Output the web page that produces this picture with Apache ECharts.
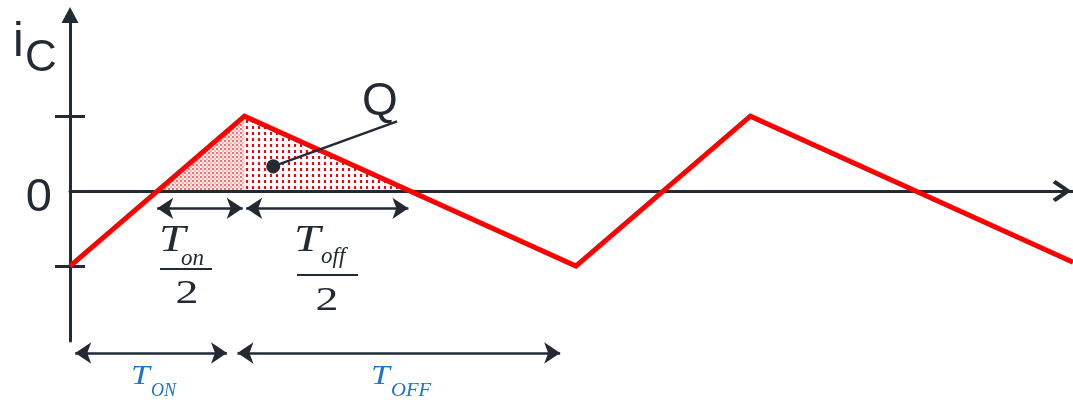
<!DOCTYPE html>
<html>
<head>
<meta charset="utf-8">
<script src="https://cdn.jsdelivr.net/npm/echarts@6/dist/echarts.min.js"></script>
<style>
  html, body { margin: 0; background: #fff; }
  #chart { width: 1073px; height: 400px; }
</style>
</head>
<body>
<div id="chart"></div>
<script>
// time in units of T_on, current in units of the ripple peak
const waveT = [0, 1, 2.9, 3.9, 5.75]
const waveI = [-1, 1, -1, 1, -0.95]
const chargeOnT = [0.5, 1]
const chargeOnI = [0, 1]
const chargeOffT = [1, 1.95]
const chargeOffI = [1, 0]
const halfSpans = [[0.5, 0.99], [1.01, 1.94]]
const halfLevel = -0.23
const periodSpans = [[0.03, 0.9], [0.96, 2.81]]
const periodLevel = -2.16
const qDot = [1.165, 0.33]
const qEnd = [1.875, 0.93]
const yTicks = [-1, 1]
const yLabels = [0]

const dark = '#222a33'
const blue = '#2273c3'
const sans = '"Liberation Sans", Arial, sans-serif'
const serif = '"Liberation Serif", "Times New Roman", serif'

const zip = (xs, ys) => xs.map((x, i) => [x, ys[i]])

// 点阵填充
const makePattern = (w, h, bg, dots) => {
  const c = document.createElement('canvas')
  c.width = w
  c.height = h
  const ctx = c.getContext('2d')
  if (bg) {
    ctx.fillStyle = bg
    ctx.fillRect(0, 0, w, h)
  }
  dots.forEach(d => {
    ctx.fillStyle = d[4]
    ctx.fillRect(d[0], d[1], d[2], d[3])
  })
  return c
}
const finePattern = makePattern(4, 4, '#fff0f0', [[0, 0, 2, 2, '#ff6b6b'], [2, 2, 2, 2, '#ffb0b0']])
const coarsePattern = makePattern(6, 6, '#ffffff', [[0, 0, 2, 3, '#ff0000']])

const spanLines = (spans, level) => spans.map(s => [{ coord: [s[0], level] }, { coord: [s[1], level] }])

const chart = echarts.init(document.getElementById('chart'))

const serifText = (x, y, text, size, opts = {}) => ({
  type: 'text',
  x, y,
  scaleX: opts.scaleX || 1,
  style: {
    text,
    fontFamily: serif,
    fontStyle: opts.italic ? 'italic' : 'normal',
    fontSize: size,
    fill: opts.color || dark,
    align: opts.align || 'left',
    verticalAlign: 'middle'
  }
})

const arrowLines = {
  silent: true,
  symbol: ['arrow', 'arrow'],
  symbolSize: 16,
  label: { show: false },
  lineStyle: { color: dark, width: 2.5, type: 'solid' }
}

const option = {
  animation: false,
  grid: [
    { left: 70, right: 0, top: 15, bottom: 59, outerBoundsMode: 'none' },
    { left: 70, right: 0, top: 341, bottom: 36.5, outerBoundsMode: 'none' }
  ],
  xAxis: [
    {
      type: 'value',
      min: 0,
      max: 5.75,
      axisLine: {
        lineStyle: { color: dark, width: 3 },
        symbol: ['none', 'path://M0,16 L11,0 L22,16 L19,19 L11,7 L3,19 Z'],
        symbolSize: [22, 19],
        symbolOffset: [0, -11]
      },
      axisTick: { show: false },
      axisLabel: { show: false },
      splitLine: { show: false }
    },
    { type: 'value', gridIndex: 1, min: 0, max: 5.75, show: false }
  ],
  yAxis: [
    {
      type: 'value',
      min: -2,
      max: 2.35,
      axisLine: {
        show: true,
        lineStyle: { color: dark, width: 3 },
        symbol: ['none', 'path://M0,16 L8.5,0 L17,16 Z'],
        symbolSize: [17, 16]
      },
      axisTick: { show: true, inside: true, length: 15, customValues: yTicks, lineStyle: { color: dark, width: 3 } },
      axisLabel: {
        customValues: yLabels,
        margin: 18,
        verticalAlign: 'top',
        lineHeight: 13,
        fontFamily: sans,
        fontSize: 47,
        color: dark
      },
      splitLine: { show: false }
    },
    {
      type: 'value',
      position: 'left',
      min: -2,
      max: 2.35,
      axisLine: { show: false },
      axisTick: { show: true, inside: false, length: 15, customValues: yTicks, lineStyle: { color: dark, width: 3 } },
      axisLabel: { show: false },
      splitLine: { show: false }
    },
    { type: 'value', gridIndex: 1, min: -2.3, max: -2, show: false }
  ],
  series: [
    {
      name: 'Q on',
      type: 'line',
      z: -1,
      data: zip(chargeOnT, chargeOnI),
      symbol: 'none',
      lineStyle: { width: 0 },
      areaStyle: { color: { image: finePattern, repeat: 'repeat' }, opacity: 1 }
    },
    {
      name: 'Q off',
      type: 'line',
      z: -1,
      data: zip(chargeOffT, chargeOffI),
      symbol: 'none',
      lineStyle: { width: 0 },
      areaStyle: { color: { image: coarsePattern, repeat: 'repeat' }, opacity: 1 }
    },
    {
      name: 'iC',
      type: 'line',
      z: 3,
      data: zip(waveT, waveI),
      symbol: 'none',
      lineStyle: { color: '#ff0000', width: 5, join: 'miter' },
      markLine: {
        ...arrowLines,
        data: [
          ...spanLines(halfSpans, halfLevel),
          [
            { coord: qDot, symbol: 'circle', symbolSize: 14 },
            { coord: qEnd, symbol: 'none' }
          ]
        ]
      }
    },
    {
      name: 'periods',
      type: 'line',
      xAxisIndex: 1,
      yAxisIndex: 2,
      data: [],
      markLine: { ...arrowLines, data: spanLines(periodSpans, periodLevel) }
    }
  ],
  graphic: [
    { type: 'text', x: 13, y: 43, style: { text: 'i', fontFamily: sans, fontSize: 48, fill: dark, verticalAlign: 'middle' } },
    { type: 'text', x: 25, y: 59, style: { text: 'C', fontFamily: sans, fontSize: 44, fill: dark, verticalAlign: 'middle' } },
    { type: 'text', x: 380, y: 102, style: { text: 'Q', fontFamily: sans, fontSize: 46, fill: dark, align: 'center', verticalAlign: 'middle' } },

    // T_on / 2
    serifText(159, 241, 'T', 38, { italic: true, scaleX: 1.25 }),
    serifText(181, 259, 'on', 23, { italic: true }),
    { type: 'line', shape: { x1: 160, y1: 269, x2: 212, y2: 269 }, style: { stroke: dark, lineWidth: 2 } },
    serifText(187, 294, '2', 34, { align: 'center', scaleX: 1.35 }),

    // T_off / 2
    serifText(294, 241, 'T', 38, { italic: true, scaleX: 1.25 }),
    serifText(321, 257, 'off', 23, { italic: true }),
    { type: 'line', shape: { x1: 297, y1: 275, x2: 358, y2: 275 }, style: { stroke: dark, lineWidth: 2 } },
    serifText(327, 301, '2', 34, { align: 'center', scaleX: 1.35 }),

    // T_ON, T_OFF
    serifText(131, 377, 'T', 27, { italic: true, scaleX: 1.25, color: blue }),
    serifText(151, 391, 'ON', 18, { italic: true, color: blue }),
    serifText(371, 377, 'T', 27, { italic: true, scaleX: 1.25, color: blue }),
    serifText(391, 391, 'OFF', 18, { italic: true, scaleX: 1.15, color: blue })
  ]
}

chart.setOption(option)
</script>
</body>
</html>
